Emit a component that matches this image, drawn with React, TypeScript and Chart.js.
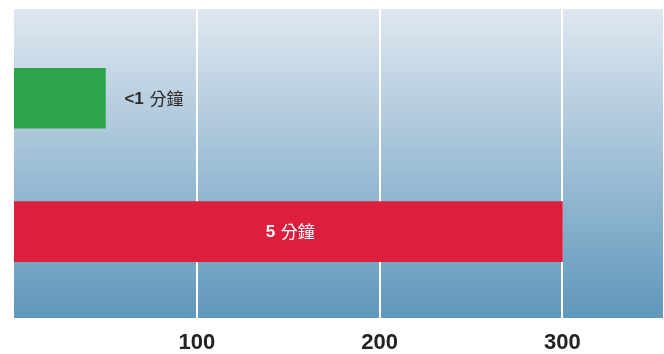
import React, { useEffect, useRef } from "react";
import { Chart, registerables } from "chart.js";

Chart.register(...registerables);

const categories = ["<1 分鐘", "5 分鐘"];
const values = [50, 300];
const barColors = ["#2ca44b", "#db1f3d"];
const tickValues = [100, 200, 300];
const xMax = 355;

const bgPlugin = {
  id: "bgGradient",
  beforeDraw(chart: any) {
    const { ctx, chartArea } = chart;
    if (!chartArea) return;
    const g = ctx.createLinearGradient(0, chartArea.top, 0, chartArea.bottom);
    g.addColorStop(0, "#dfe7f0");
    g.addColorStop(1, "#5f97bb");
    ctx.save();
    ctx.fillStyle = g;
    ctx.fillRect(chartArea.left, chartArea.top, chartArea.right - chartArea.left, chartArea.bottom - chartArea.top);
    ctx.restore();
  },
};

function splitLabel(s: string) {
  const i = s.indexOf(" ");
  return [s.slice(0, i + 1), s.slice(i + 1)];
}

const labelPlugin = {
  id: "barLabels",
  afterDatasetsDraw(chart: any) {
    const { ctx } = chart;
    const meta = chart.getDatasetMeta(0);
    const latinFont = "bold 17px 'Liberation Sans', Arial, sans-serif";
    const cjkFont = "17px 'Noto Sans CJK TC', sans-serif";
    meta.data.forEach((bar: any, i: number) => {
      const [a, b] = splitLabel(categories[i]);
      ctx.save();
      ctx.font = latinFont;
      const wa = ctx.measureText(a).width + 1;
      ctx.font = cjkFont;
      const wb = ctx.measureText(b).width;
      const w = wa + wb;
      const barW = bar.x - bar.base;
      let x0: number;
      let color: string;
      if (barW > w * 2) {
        x0 = (bar.x + bar.base) / 2 - w / 2 + 2;
        color = "#ffffff";
      } else {
        x0 = bar.x + 19;
        color = "#2a2a2a";
      }
      ctx.fillStyle = color;
      ctx.textBaseline = "middle";
      ctx.textAlign = "left";
      ctx.font = latinFont;
      ctx.fillText(a, x0, bar.y + 1);
      ctx.font = cjkFont;
      ctx.fillText(b, x0 + wa, bar.y);
      ctx.restore();
    });
  },
};

export default function App() {
  const ref = useRef<HTMLCanvasElement | null>(null);
  useEffect(() => {
    if (!ref.current) return;
    const chart = new Chart(ref.current, {
      type: "bar",
      data: {
        datasets: [
          {
            data: values.map((v, i) => ({ x: v, y: i })),
            backgroundColor: barColors,
            borderWidth: 0,
            barThickness: 60,
          },
        ],
      },
      options: {
        indexAxis: "y",
        animation: false,
        responsive: false,
        layout: { padding: { left: 14, top: 9, right: 1, bottom: 0 } },
        plugins: { legend: { display: false }, tooltip: { enabled: false } },
        scales: {
          y: {
            type: "linear",
            bounds: "data",
            offset: false,
            min: -0.669,
            max: 1.655,
            reverse: true,
            display: false,
          },
          x: {
            type: "linear",
            min: 0,
            max: xMax,
            afterBuildTicks: (axis: any) => {
              axis.ticks = tickValues.map((v) => ({ value: v }));
            },
            afterFit: (axis: any) => {
              axis.height = 35;
            },
            grid: { color: "#ffffff", lineWidth: 2, drawTicks: false },
            border: { display: true, color: "#ffffff", width: 2 },
            ticks: {
              padding: 11,
              color: "#222222",
              font: { family: "'Liberation Sans', Arial, sans-serif", size: 22, weight: "bold" },
            },
          },
        },
      },
      plugins: [bgPlugin, labelPlugin],
    } as any);
    return () => chart.destroy();
  }, []);
  return (
    <div style={{ position: "fixed", left: 0, top: 0, width: 664, height: 354, background: "#fff" }}>
      <canvas ref={ref} width={664} height={354} />
    </div>
  );
}
